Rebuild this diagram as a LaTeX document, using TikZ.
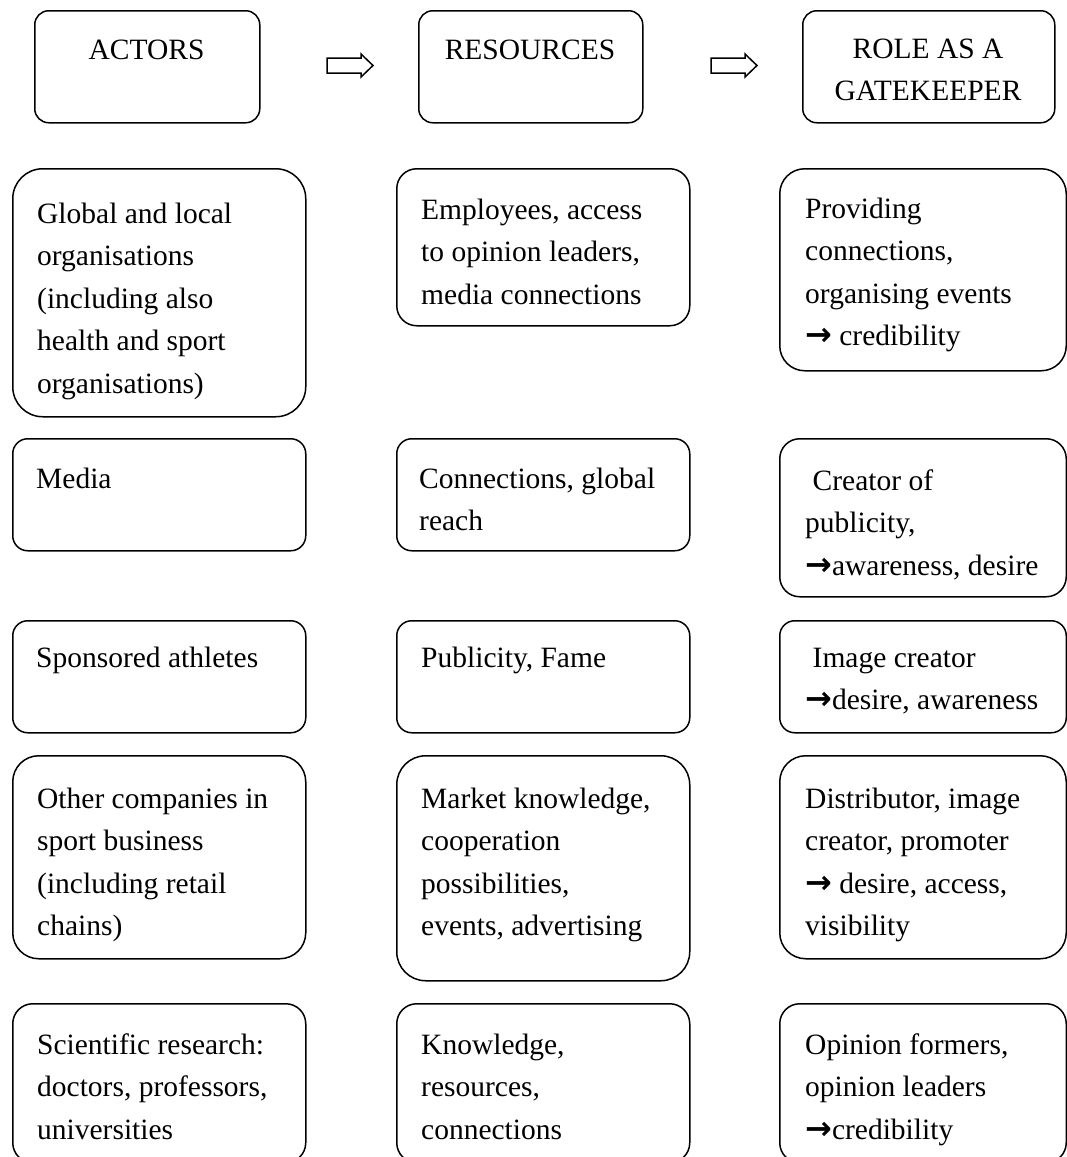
\documentclass[tikz,border=0pt]{standalone}
\usepackage{fontspec}
\setmainfont{Liberation Serif}
\newfontfamily\arrowfont{DejaVu Sans}
% first-line strut: node tops sit a fixed distance above the first baseline
\newcommand\topstrut{\rule{0pt}{22pt}}
% heavy right arrow used inside the role texts
\newcommand\rarr{{\arrowfont\bfseries\fontsize{32}{42.5}\selectfont →}}
\begin{document}
\begin{tikzpicture}[x=1pt,y=-1pt,
  frame/.style={draw, line width=1.5pt, rounded corners=#1, inner sep=0pt,
    anchor=north west},
  frame/.default=20pt,
  txt/.style={anchor=north west, inner sep=0pt, align=left,
    font=\fontsize{29.5}{42.5}\selectfont},
  head/.style={anchor=north, inner sep=0pt, align=center,
    font=\fontsize{29.5}{42.5}\selectfont},
  blockarrow/.style={draw, line width=1.5pt, line join=miter, fill=white},
]
\clip (0,0) rectangle (1067,1157);

% ---------- header row ----------
\node[frame=14pt, minimum width=225pt, minimum height=112pt] (hA) at (34,10) {};
\node[frame=14pt, minimum width=224pt, minimum height=112pt] (hB) at (418,10) {};
\node[frame=14pt, minimum width=252pt, minimum height=112pt] (hC) at (802,10) {};
\node[head] (hAt) at (146.5,{59-22}) {\topstrut ACTORS};
\node[head] (hBt) at (530,{59-22}) {\topstrut RESOURCES};
\node[head] (hCt) at (928,{58-22}) {\topstrut ROLE AS A\\GATEKEEPER};

% block arrows between the headings
\draw[blockarrow] (327,58) -- (361,58) -- (361,54) -- (373,65.5) -- (361,77)
  -- (361,73) -- (327,73) -- cycle;
\draw[blockarrow, xshift=384pt] (327,58) -- (361,58) -- (361,54) -- (373,65.5)
  -- (361,77) -- (361,73) -- (327,73) -- cycle;

% ---------- row 1 ----------
\node[frame=30pt, minimum width=293pt, minimum height=248pt] (a1) at (12,168) {};
\node[frame=20pt, minimum width=293pt, minimum height=157pt] (b1) at (396,168) {};
\node[frame=25pt, minimum width=286.5pt, minimum height=202pt] (c1) at (779,168) {};
\node[txt] (a1t) at (37,{223-22}) {\topstrut Global and local\\organisations\\(including also\\health and sport\\organisations)};
\node[txt] (b1t) at (421,{219-22}) {\topstrut Employees, access\\to opinion leaders,\\media connections};
\node[txt] (c1t) at (805,{218-22}) {\topstrut Providing\\connections,\\organising events\\\rarr{} credibility};

% ---------- row 2 ----------
\node[frame=15pt, minimum width=293pt, minimum height=112pt] (a2) at (12,438) {};
\node[frame=15pt, minimum width=293pt, minimum height=112pt] (b2) at (396,438) {};
\node[frame=20pt, minimum width=286.5pt, minimum height=158pt] (c2) at (779,438) {};
\node[txt] (a2t) at (36,{488-22}) {\topstrut Media};
\node[txt] (b2t) at (419,{488-22}) {\topstrut Connections, global\\reach};
\node[txt] (c2t) at (805,{490-22}) {\topstrut\hspace*{7.5pt}Creator of\\publicity,\\\rarr awareness, desire};

% ---------- row 3 ----------
\node[frame=15pt, minimum width=293pt, minimum height=112pt] (a3) at (12,620) {};
\node[frame=15pt, minimum width=293pt, minimum height=112pt] (b3) at (396,620) {};
\node[frame=15pt, minimum width=286.5pt, minimum height=112pt] (c3) at (779,620) {};
\node[txt] (a3t) at (36,{667-22}) {\topstrut Sponsored athletes};
\node[txt] (b3t) at (421,{667-22}) {\topstrut Publicity, Fame};
\node[txt] (c3t) at (805,{667-22}) {\topstrut\hspace*{7.5pt}Image creator\\\rarr desire, awareness};

% ---------- row 4 ----------
\node[frame=26pt, minimum width=293pt, minimum height=203pt] (a4) at (12,755) {};
\node[frame=29pt, minimum width=293pt, minimum height=225pt] (b4) at (396,755) {};
\node[frame=26pt, minimum width=286.5pt, minimum height=203pt] (c4) at (779,755) {};
\node[txt] (a4t) at (37,{808-22}) {\topstrut Other companies in\\sport business\\(including retail\\chains)};
\node[txt] (b4t) at (421,{808-22}) {\topstrut Market knowledge,\\cooperation\\possibilities,\\events, advertising};
\node[txt] (c4t) at (805,{808-22}) {\topstrut Distributor, image\\creator, promoter\\\rarr{} desire, access,\\visibility};

% ---------- row 5 ----------
\node[frame=20pt, minimum width=293pt, minimum height=159pt] (a5) at (12,1003) {};
\node[frame=20pt, minimum width=293pt, minimum height=159pt] (b5) at (396,1003) {};
\node[frame=20pt, minimum width=286.5pt, minimum height=159pt] (c5) at (779,1003) {};
\node[txt] (a5t) at (37,{1054-22}) {\topstrut Scientific research:\\doctors, professors,\\universities};
\node[txt] (b5t) at (421,{1054-22}) {\topstrut Knowledge,\\resources,\\connections};
\node[txt] (c5t) at (805,{1054-22}) {\topstrut Opinion formers,\\opinion leaders\\\rarr credibility};
\end{tikzpicture}
\end{document}
